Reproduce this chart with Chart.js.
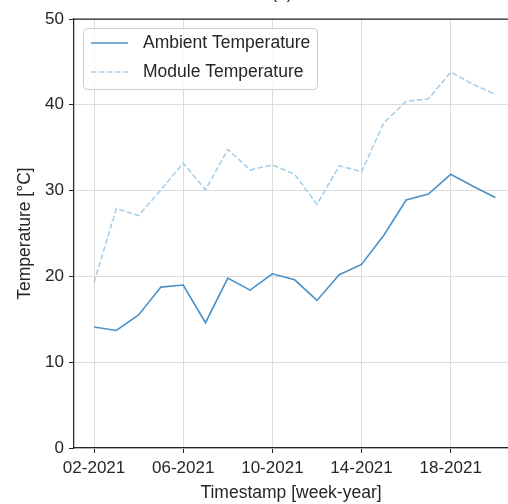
<!DOCTYPE html>
<html>
<head>
<meta charset="utf-8">
<script src="https://cdn.jsdelivr.net/npm/chart.js@4"></script>
<style>
  html, body { margin: 0; padding: 0; background: #fff; }
  #wrap { width: 508px; height: 504px; }
</style>
</head>
<body>
<div id="wrap"><canvas id="tempChart" width="508" height="504"></canvas></div>
<script>
// weekly averages, week number of 2021
const weeks = [2, 3, 4, 5, 6, 7, 8, 9, 10, 11, 12, 13, 14, 15, 16, 17, 18, 19, 20];
const ambientTemp = [14.1, 13.7, 15.5, 18.75, 19.0, 14.6, 19.8, 18.4, 20.3, 19.6, 17.2, 20.2, 21.4, 24.8, 28.9, 29.6, 31.9, 30.5, 29.2];
const moduleTemp = [19.3, 27.9, 27.1, 30.1, 33.2, 30.1, 34.8, 32.4, 33.0, 31.9, 28.4, 32.9, 32.2, 37.9, 40.4, 40.7, 43.8, 42.4, 41.2];
const weekTicks = [2, 6, 10, 14, 18];
const yTicks = [0, 10, 20, 30, 40, 50];

const textColor = "#262626";
const gridColor = "#dcdcdc";
const fontFamily = "'Liberation Sans', Arial, sans-serif";

function toPoints(values) {
  return weeks.map((w, i) => ({ x: w, y: values[i] }));
}

function weekLabel(w) {
  return String(w).padStart(2, "0") + "-2021";
}

// top spine, panel letter and legend box inside the axes (like matplotlib)
const framePlugin = {
  id: "frame",
  afterDraw(chart) {
    const { ctx, chartArea } = chart;
    ctx.save();
    ctx.strokeStyle = textColor;
    ctx.lineWidth = 1.25;
    ctx.beginPath();
    ctx.moveTo(chartArea.left, chartArea.top);
    ctx.lineTo(chartArea.right, chartArea.top);
    ctx.stroke();

    ctx.fillStyle = textColor;
    ctx.font = "17px " + fontFamily;
    ctx.textAlign = "center";
    ctx.textBaseline = "alphabetic";
    ctx.fillText("(a)", 282, -1);

    // legend
    const x0 = 83, y0 = 28, w = 234, h = 61, r = 4;
    ctx.fillStyle = "rgba(255,255,255,0.8)";
    ctx.strokeStyle = "#cccccc";
    ctx.lineWidth = 1;
    ctx.beginPath();
    ctx.roundRect(x0 + 0.5, y0 + 0.5, w, h, r);
    ctx.fill();
    ctx.stroke();

    ctx.font = "17.5px " + fontFamily;
    chart.data.datasets.forEach((ds, i) => {
      const y = 43 + i * 29;
      ctx.strokeStyle = ds.borderColor;
      ctx.lineWidth = ds.borderWidth;
      ctx.setLineDash(ds.borderDash || []);
      ctx.beginPath();
      ctx.moveTo(91, y);
      ctx.lineTo(128, y);
      ctx.stroke();
      ctx.setLineDash([]);
      ctx.fillStyle = textColor;
      ctx.textAlign = "left";
      ctx.textBaseline = "middle";
      ctx.fillText(ds.label, 143, y + 0.5);
    });
    ctx.restore();
  }
};

new Chart(document.getElementById("tempChart"), {
  type: "line",
  data: {
    datasets: [
      {
        label: "Ambient Temperature",
        data: toPoints(ambientTemp),
        borderColor: "#4a92c8",
        borderWidth: 1.6,
        pointRadius: 0,
        tension: 0
      },
      {
        label: "Module Temperature",
        data: toPoints(moduleTemp),
        borderColor: "#a9cfe8",
        borderWidth: 1.6,
        borderDash: [5.5, 2.5],
        pointRadius: 0,
        tension: 0
      }
    ]
  },
  options: {
    responsive: false,
    animation: false,
    layout: { padding: { top: 19, right: 0, left: 0, bottom: 0 } },
    plugins: {
      legend: { display: false },
      tooltip: { enabled: false }
    },
    scales: {
      x: {
        type: "linear",
        min: 1.1,
        max: 20.57,
        afterFit: s => { s.height = 56; },
        afterBuildTicks: s => { s.ticks = weekTicks.map(v => ({ value: v })); },
        border: { color: textColor, width: 1.25 },
        grid: { color: gridColor, lineWidth: 1, tickColor: textColor, tickLength: 5 },
        ticks: {
          color: textColor,
          font: { family: fontFamily, size: 17 },
          padding: 5,
          maxRotation: 0,
          autoSkip: false,
          callback: v => weekLabel(v)
        },
        title: {
          display: true,
          text: "Timestamp [week-year]",
          color: textColor,
          font: { family: fontFamily, size: 17.5 },
          padding: { top: 0, bottom: 0 }
        }
      },
      y: {
        min: 0,
        max: 50,
        afterFit: s => { s.width = 74; },
        afterBuildTicks: s => { s.ticks = yTicks.map(v => ({ value: v })); },
        border: { color: textColor, width: 1.25 },
        grid: { color: gridColor, lineWidth: 1, tickColor: textColor, tickLength: 5 },
        ticks: {
          color: textColor,
          font: { family: fontFamily, size: 17 },
          padding: 5
        },
        title: {
          display: true,
          text: "Temperature [°C]",
          color: textColor,
          font: { family: fontFamily, size: 17.5 },
          padding: { top: 15, bottom: 0 }
        }
      }
    }
  },
  plugins: [framePlugin]
});
</script>
</body>
</html>
